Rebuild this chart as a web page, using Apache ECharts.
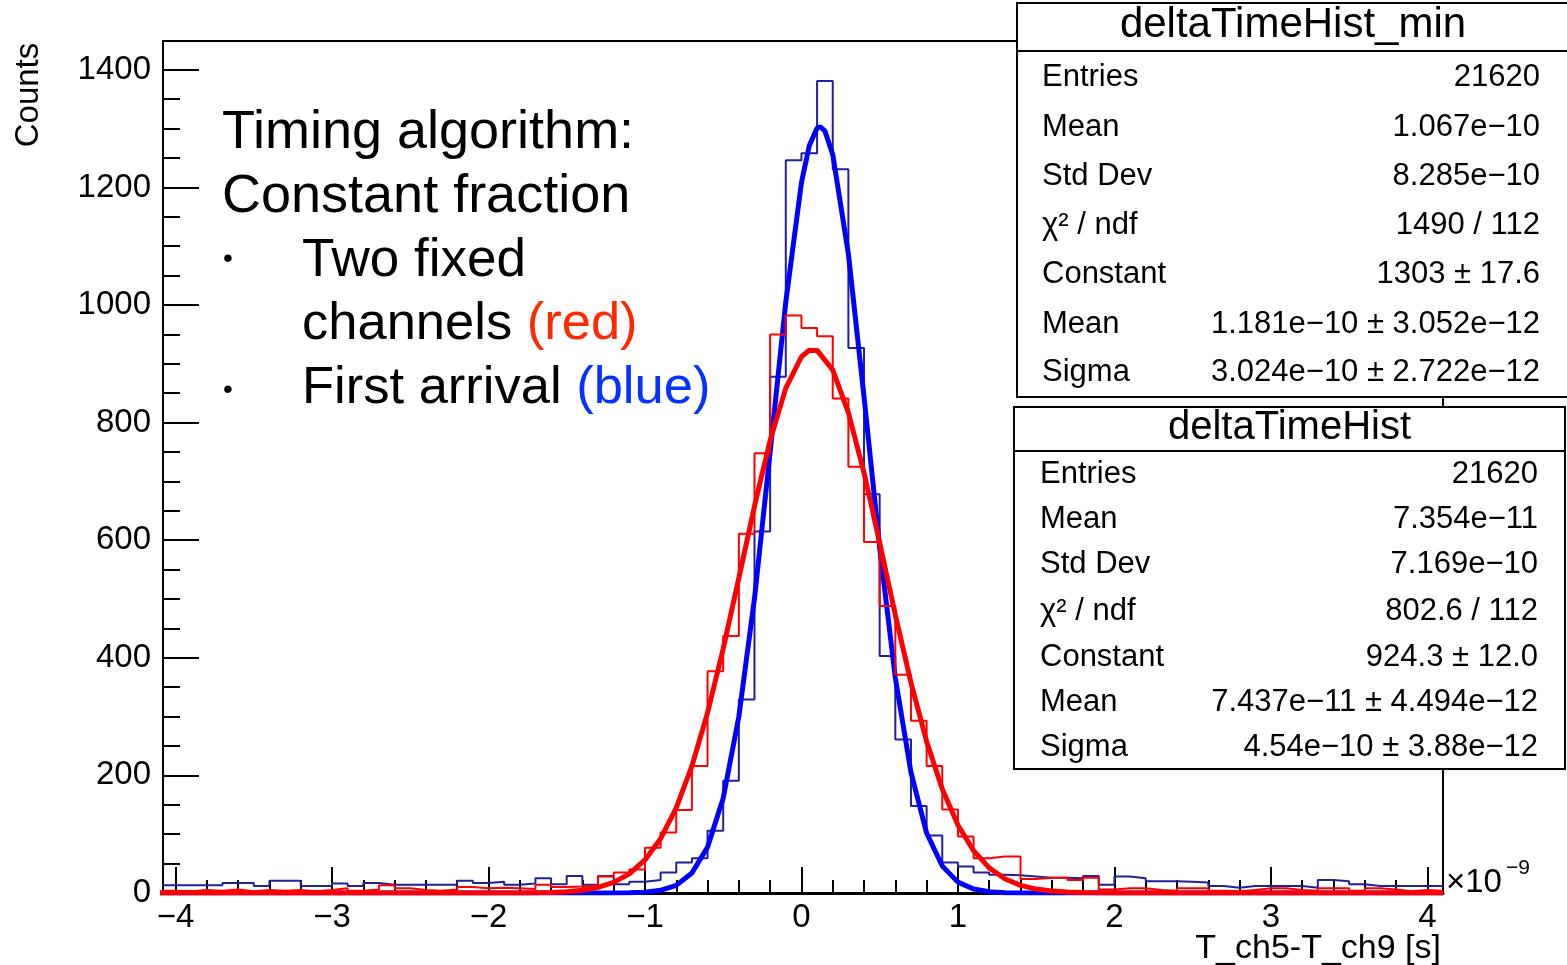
<!DOCTYPE html>
<html><head><meta charset="utf-8">
<script src="https://cdn.jsdelivr.net/npm/echarts@6/dist/echarts.min.js"></script>
<style>html,body{margin:0;padding:0;background:#fff;overflow:hidden}#c{width:1567px;height:965px}</style>
</head><body><div id="c"></div>
<script>
// ---------- data ----------
const binStart = -4.1;      // ns, low edge of first bin
const binWidth = 0.1;       // ns
// deltaTimeHist_min (first arrival, blue), counts per bin from -4.1 to 4.1
const blueCounts = [13,13,13,13,17,17,12,21,21,12,12,16,12,17,14,14,14,14,14,21,17,19,14,16,25,15,29,14,29,15,
  19,22,35,52,59,106,191,329,615,878,1246,1258,1381,1231,927,678,403,261,148,98,52,45,35,31,30,28,26,26,25,29,
  14,28,25,20,20,19,18,12,9,12,12,12,12,9,22,20,15,12,12,12,12,12];
// deltaTimeHist (two fixed channels, red)
const redCounts = [4,3,5,4,6,3,5,4,5,3,5,8,4,6,13,8,5,4,6,10,8,9,8,7,14,10,11,12,28,35,
  40,77,103,141,216,377,437,611,748,950,982,961,947,841,725,597,488,371,293,216,142,96,59,62,62,24,26,26,22,26,
  6,8,8,5,4,8,8,4,3,5,8,8,5,4,8,8,4,8,6,3,5,4];
// Gaussian fit curves
const blueFitX = [-4.1,-1.2,-1.1,-1.0,-0.9,-0.8,-0.7,-0.6,-0.5,-0.4,-0.3,-0.2,-0.1,0.0,0.05,0.1,0.12,0.15,0.2,0.3,0.4,0.5,0.6,0.7,0.8,0.9,1.0,1.1,1.2,1.3,1.4,4.1];
const blueFitY = [0,0.1,0.4,1.4,4.5,13,34,78,161,300,501,750,1005,1208,1271,1301,1303,1296,1256,1087,844,587,366,205,102,46,18.5,6.7,2.2,0.6,0.15,0];
const redFitX = [-4.1,-2.0,-1.8,-1.6,-1.5,-1.4,-1.3,-1.2,-1.1,-1.0,-0.9,-0.8,-0.7,-0.6,-0.5,-0.4,-0.3,-0.2,-0.1,0.0,0.05,0.1,0.2,0.3,0.4,0.5,0.6,0.7,0.8,0.9,1.0,1.1,1.2,1.3,1.4,1.5,1.6,1.7,1.8,2.0,4.1];
const redFitY = [0,0.03,0.18,1.0,2.3,4.7,9.5,18,32.6,56.3,92.4,144.7,215.7,306.5,415.3,535.5,657.9,769.8,858.6,912,923,922.8,889.6,816.9,714.7,595.6,473,357.7,257.8,176.9,115.6,72.1,42.8,24.2,13.0,6.7,3.3,1.5,0.65,0.1,0];
// ticks
const xMajorTicks = [-4,-3,-2,-1,0,1,2,3,4];
const yMajorTicks = [0,200,400,600,800,1000,1200,1400];
const xMinorTicks = [];
for (let k = -20; k <= 20; k++) { if (k % 5 !== 0) xMinorTicks.push(Math.round(k * 2) / 10); }
const yMinorTicks = [];
for (let k = 1; k <= 28; k++) { if (k % 4 !== 0) yMinorTicks.push(k * 50); }
// stat boxes
const statMinTitle = 'deltaTimeHist_min';
const statMinLabels = ['Entries','Mean','Std Dev','χ² / ndf','Constant','Mean','Sigma'];
const statMinValues = ['21620','1.067e−10','8.285e−10','1490 / 112','1303 ± 17.6','1.181e−10 ± 3.052e−12','3.024e−10 ± 2.722e−12'];
const statTitle = 'deltaTimeHist';
const statLabels = ['Entries','Mean','Std Dev','χ² / ndf','Constant','Mean','Sigma'];
const statValues = ['21620','7.354e−11','7.169e−10','802.6 / 112','924.3 ± 12.0','7.437e−11 ± 4.494e−12','4.54e−10 ± 3.88e−12'];

// ---------- build ----------
const FONT = '"Liberation Sans", Arial, Helvetica, sans-serif';
function histPoints(counts) {
  const pts = counts.map((c, i) => [binStart + i * binWidth, c]);
  pts.push([binStart + counts.length * binWidth, counts[counts.length - 1]]);
  return pts;
}
const zip = (xs, ys) => xs.map((x, i) => [x, ys[i]]);
const minus = v => (v < 0 ? '\u2212' + (-v) : String(v));

const X0 = -4.08, X1 = 4.1, YMAX = 1449;

function statBox(x, y, w, h, headerH, title, titleSize, titleCy, labels, values, rowCys, lx, rx) {
  const els = [
    { type: 'rect', z: 100, shape: { x, y, width: w, height: h }, style: { fill: '#fff', stroke: '#000', lineWidth: 2 } },
    { type: 'line', z: 101, shape: { x1: x, y1: y + headerH, x2: x + w, y2: y + headerH }, style: { stroke: '#000', lineWidth: 2 } },
    { type: 'text', z: 101, x: x + w / 2, y: titleCy, style: { text: title, fill: '#000', font: titleSize + 'px ' + FONT, align: 'center', verticalAlign: 'middle' } }
  ];
  labels.forEach((l, i) => {
    els.push({ type: 'text', z: 101, x: lx, y: rowCys[i], style: { text: l, fill: '#000', font: '31px ' + FONT, align: 'left', verticalAlign: 'middle' } });
    els.push({ type: 'text', z: 101, x: rx, y: rowCys[i], style: { text: values[i], fill: '#000', font: '31px ' + FONT, align: 'right', verticalAlign: 'middle' } });
  });
  return els;
}

const annot = (x, y, size, text, extra) => Object.assign({ type: 'text', z: 50, x, y, style: Object.assign({ text, fill: '#000', font: size + 'px ' + FONT, align: 'left', verticalAlign: 'middle' }, extra || {}) });
const bullet = (x, y) => ({ type: 'text', z: 50, x, y, style: { text: '•', fill: '#000', font: '28px ' + FONT, align: 'center', verticalAlign: 'middle' } });

const graphics = [
  annot(222, 133, 54, 'Timing algorithm:'),
  annot(222, 197, 54, 'Constant fraction'),
  bullet(228, 259),
  annot(302, 261, 53, 'Two fixed'),
  annot(302, 325, 52.5, '', { text: 'channels {r|(red)}', rich: { r: { fill: '#ff2a00', font: '52.5px ' + FONT } } }),
  bullet(228, 390),
  annot(302, 389, 52.5, '', { text: 'First arrival {b|(blue)}', rich: { b: { fill: '#0433ff', font: '52.5px ' + FONT } } }),
  { type: 'text', z: 50, x: 29, y: 95, rotation: Math.PI / 2, style: { text: 'Counts', fill: '#000', font: '33px ' + FONT, align: 'center', verticalAlign: 'middle' } },
  { type: 'text', z: 50, x: 1441, y: 949, style: { text: 'T_ch5-T_ch9 [s]', fill: '#000', font: '34px ' + FONT, align: 'right', verticalAlign: 'middle' } },
  { type: 'text', z: 50, x: 1446, y: 883, style: { text: '×10', fill: '#000', font: '33px ' + FONT, align: 'left', verticalAlign: 'middle' } },
  { type: 'text', z: 50, x: 1506, y: 868, style: { text: '\u22129', fill: '#000', font: '21px ' + FONT, align: 'left', verticalAlign: 'middle' } }
].concat(
  statBox(1017, 3, 552, 394, 48, statMinTitle, 42, 25, statMinLabels, statMinValues, [77, 127, 176, 225, 274, 324, 372], 1042, 1540),
  statBox(1014, 407, 551, 362, 44, statTitle, 40, 428, statLabels, statValues, [474, 519, 564, 611, 657, 702, 747], 1040, 1538)
);

const chart = echarts.init(document.getElementById('c'), null, { renderer: 'canvas' });
chart.setOption({
  animation: false,
  backgroundColor: '#fff',
  grid: { left: 163, top: 41, width: 1280, height: 852, show: true, borderColor: '#000', borderWidth: 2, backgroundColor: 'transparent' },
  xAxis: [
    { type: 'value', min: X0, max: X1, position: 'bottom',
      axisLine: { show: true, onZero: false, lineStyle: { color: '#000', width: 3 } },
      splitLine: { show: false },
      axisTick: { show: true, inside: true, length: 26, customValues: xMajorTicks, lineStyle: { color: '#000', width: 2 } },
      axisLabel: { show: true, customValues: xMajorTicks, formatter: minus, color: '#000', fontSize: 33, fontFamily: FONT, margin: 8 } },
    { type: 'value', min: X0, max: X1, position: 'bottom',
      axisLine: { show: false, onZero: false }, splitLine: { show: false }, axisLabel: { show: false },
      axisTick: { show: true, inside: true, length: 13, customValues: xMinorTicks, lineStyle: { color: '#000', width: 2 } } }
  ],
  yAxis: [
    { type: 'value', min: 0, max: YMAX, position: 'left',
      axisLine: { show: true, onZero: false, lineStyle: { color: '#000', width: 2 } },
      splitLine: { show: false },
      axisTick: { show: true, inside: true, length: 36, customValues: yMajorTicks, lineStyle: { color: '#000', width: 2 } },
      axisLabel: { show: true, customValues: yMajorTicks, formatter: v => String(v), color: '#000', fontSize: 33, fontFamily: FONT, margin: 12 } },
    { type: 'value', min: 0, max: YMAX, position: 'left',
      axisLine: { show: false, onZero: false }, splitLine: { show: false }, axisLabel: { show: false },
      axisTick: { show: true, inside: true, length: 17, customValues: yMinorTicks, lineStyle: { color: '#000', width: 2 } } }
  ],
  series: [
    { name: 'deltaTimeHist_min', type: 'line', step: 'end', data: histPoints(blueCounts), showSymbol: false, symbol: 'none',
      lineStyle: { color: '#20209a', width: 2 }, z: 3 },
    { name: 'fit min', type: 'line', data: zip(blueFitX, blueFitY), showSymbol: false, symbol: 'none',
      lineStyle: { color: '#0000ff', width: 5 }, z: 4 },
    { name: 'deltaTimeHist', type: 'line', step: 'end', data: histPoints(redCounts), showSymbol: false, symbol: 'none',
      lineStyle: { color: '#ff0000', width: 2 }, z: 5 },
    { name: 'fit', type: 'line', data: zip(redFitX, redFitY), showSymbol: false, symbol: 'none',
      lineStyle: { color: '#ff0000', width: 5 }, z: 6 }
  ],
  graphic: graphics
});
</script></body></html>
